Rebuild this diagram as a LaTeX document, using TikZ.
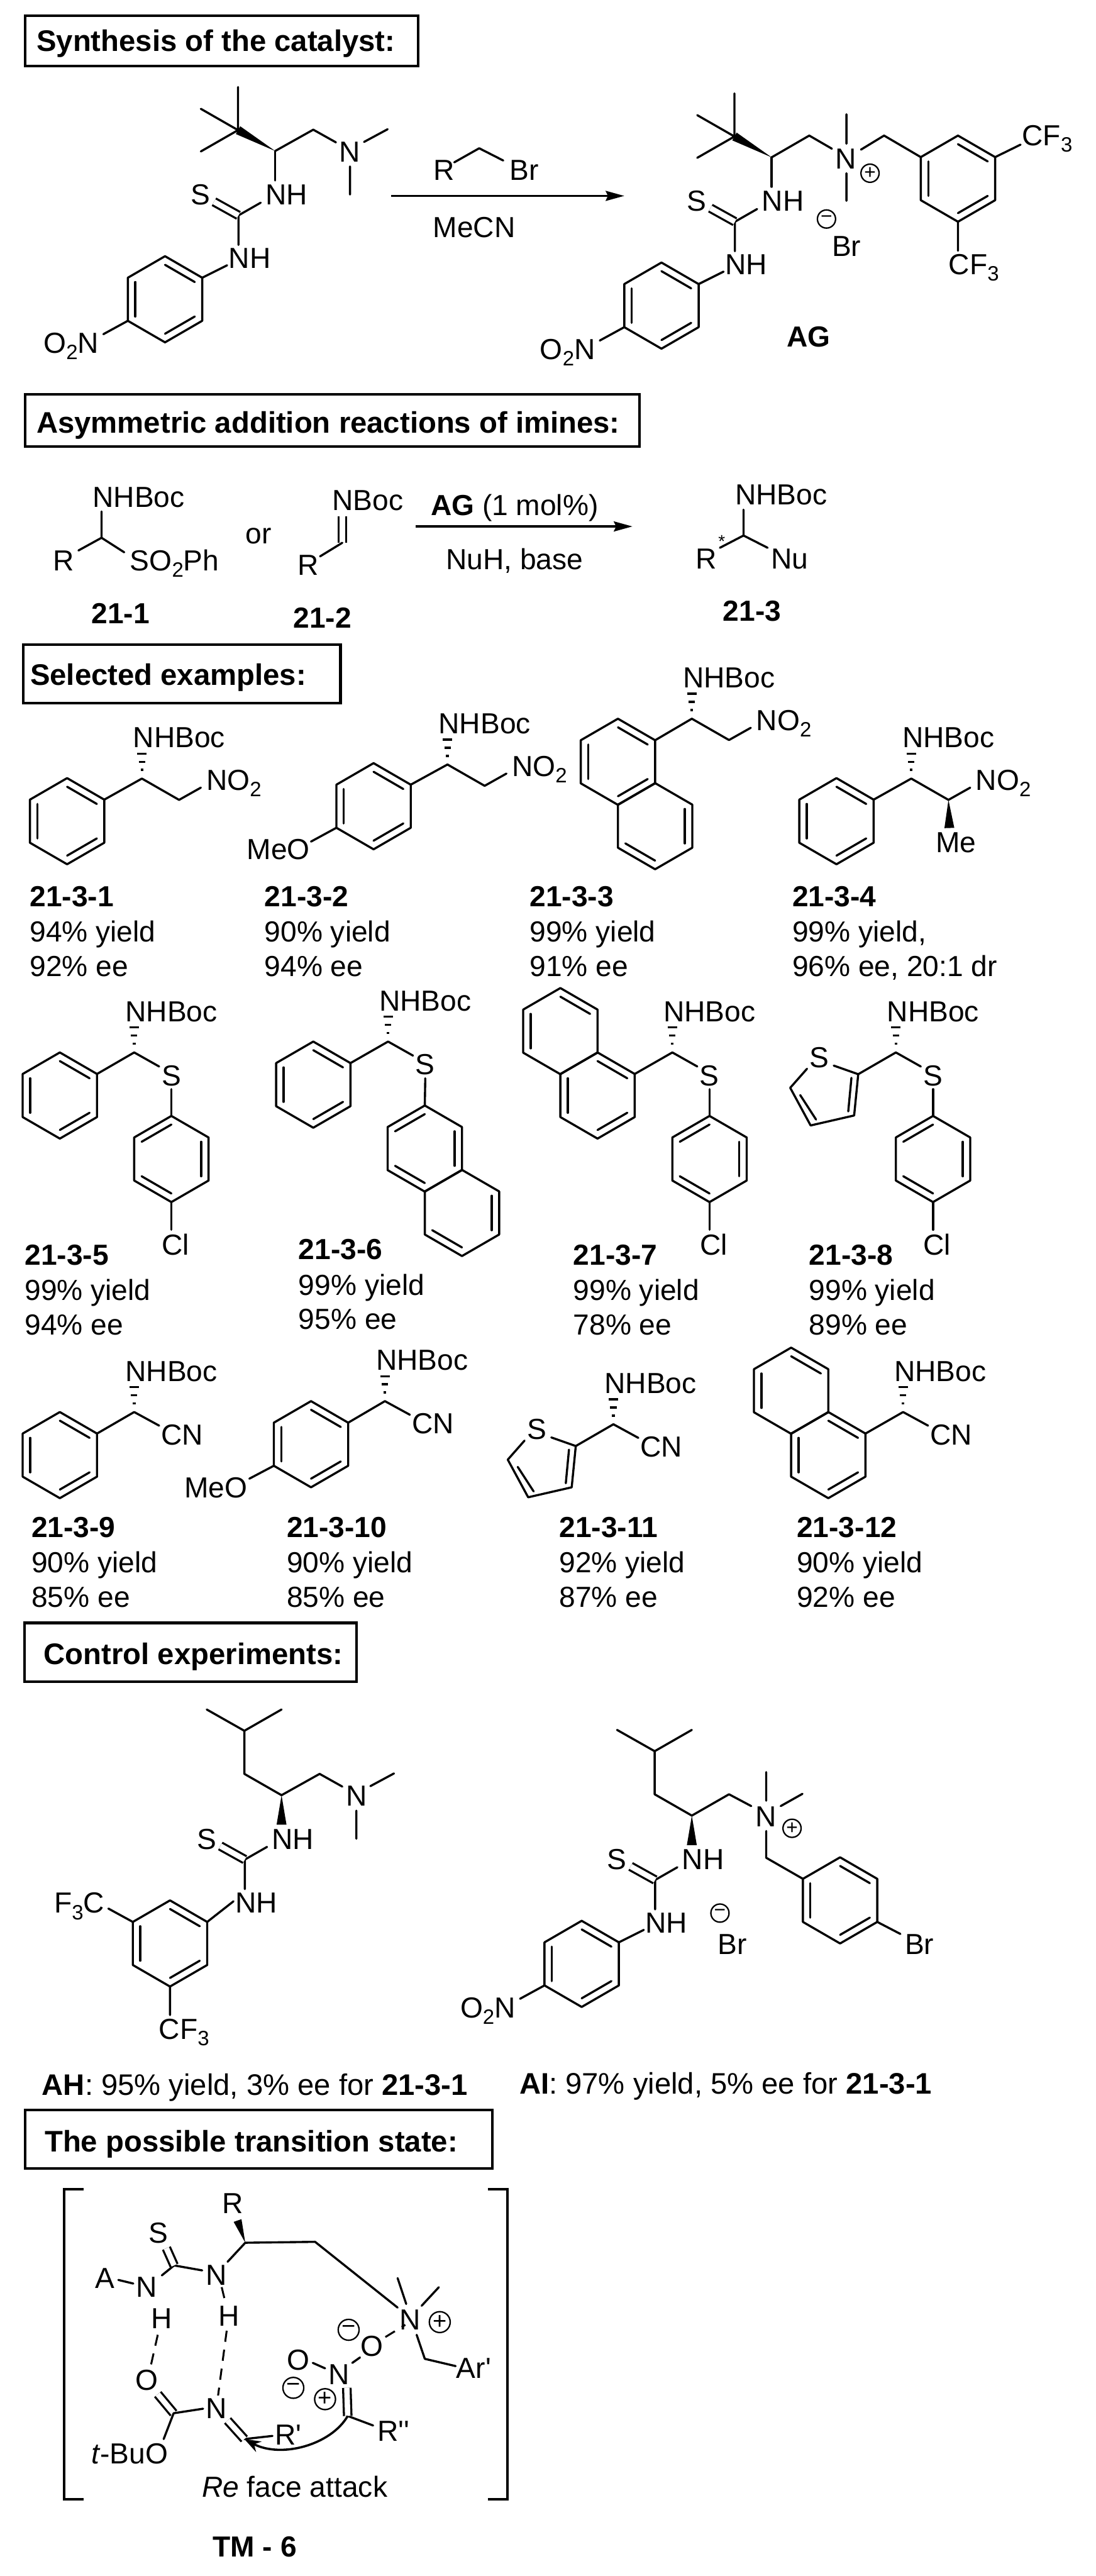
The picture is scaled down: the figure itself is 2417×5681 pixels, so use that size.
\documentclass[tikz,border=0pt]{standalone}
\usepackage{fontspec}
\setmainfont{Liberation Sans}
\newfontfamily\primefont{Liberation Sans}
\usetikzlibrary{arrows.meta,calc}
\tikzset{
  lbl/.style={anchor=base,inner sep=0pt,font=\fontsize{18.2}{22}\selectfont},
  lblbold/.style={lbl,font=\fontsize{18.2}{22}\selectfont\bfseries},
  head/.style={anchor=base west,inner sep=0pt,font=\fontsize{18.65}{22}\selectfont\bfseries},
  tagbold/.style={anchor=base west,inner sep=0pt,font=\fontsize{18.2}{22}\selectfont\bfseries},
  tagline/.style={anchor=base west,inner sep=0pt,font=\fontsize{18.2}{22}\selectfont},
  tagwide/.style={anchor=base west,inner sep=0pt,font=\fontsize{18.62}{22}\selectfont},
  chg/.style={shape=circle,draw=black,line width=0.9pt,inner sep=0pt,minimum size=0.40cm,font=\fontsize{12.5}{13}\selectfont},
  chgbig/.style={chg,minimum size=0.46cm,font=\fontsize{15}{15}\selectfont},
  bond/.style={draw=black,line width=1.33pt,line cap=round,line join=round},
  dbl/.style={draw=black,line width=1.3pt,double,double distance=3.4pt},
  hbond/.style={draw=black,line width=1.2pt,dash pattern=on 7pt off 5pt},
  frame/.style={draw=black,line width=1.6pt},
  rxn/.style={draw=black,line width=1.4pt,-{Stealth[length=0.41cm,width=0.22cm,inset=0.05cm]}},
  curly/.style={draw=black,line width=1.4pt,-{Stealth[length=0.36cm,width=0.26cm]}}
}
\newcommand{\chemsub}[1]{\raisebox{-4pt}{\fontsize{13}{13}\selectfont #1}}
\newcommand{\prm}[1]{{\primefont #1}}
\newcommand{\ringsix}[4]{
  \coordinate (#1o) at (#2,#3);
  \coordinate (#1v1) at (#2,#3-95);
  \coordinate (#1v2) at (#2+82,#3-47.5);
  \coordinate (#1v3) at (#2+82,#3+47.5);
  \coordinate (#1v4) at (#2,#3+95);
  \coordinate (#1v5) at (#2-82,#3+47.5);
  \coordinate (#1v6) at (#2-82,#3-47.5);
  \path[bond] (#1v1) -- (#1v2) -- (#1v3) -- (#1v4) -- (#1v5) -- (#1v6) -- cycle;
  \foreach \e in {#4} {
    \pgfmathtruncatemacro{\f}{mod(\e,6)+1}
    \path[bond] ($(#1o)!0.8!(#1v\e)$) -- ($(#1o)!0.8!(#1v\f)$);
  }
}
\newcommand{\hashbond}[2]{
  \foreach \t/\w in {0.33/3,0.64/7,0.95/10.5} {
    \path[bond,line cap=butt] ($(#1)!\t!(#2)$) +(-\w,0) -- +(\w,0);
  }
}
\newcommand{\wedgebond}[3]{
  \fill[black] (#1) -- ($(#2)!#3!90:(#1)$) -- ($(#2)!#3!-90:(#1)$) -- cycle;
}
\newcommand{\nhbocarm}[3]{
  \coordinate (#1c) at (#2,#3);
  \coordinate (#1h) at (#2,#3-58);
  \node[lbl] (#1b) at (#2+82,#3-68) {NHBoc};
  \hashbond{#1c}{#1h}
}
\newcommand{\nitroend}[3]{
  \coordinate (#1m) at (#2+82,#3+47);
  \coordinate (#1e) at (#2+130,#3+20);
  \node[lbl] (#1n) at (#2+203,#3+26) {NO\chemsub{2}};
  \path[bond] (#1c) -- (#1m) -- (#1e);
}
\newcommand{\cyanoend}[3]{
  \coordinate (#1e) at (#2+55,#3+30);
  \node[lbl] (#1n) at (#2+106,#3+72) {CN};
  \path[bond] (#1c) -- (#1e);
}
\newcommand{\sulfide}[3]{
  \coordinate (#1e) at (#2+55,#3+31);
  \coordinate (#1f) at (#2+82,#3+81);
  \node[lbl] (#1s) at (#2+82,#3+73) {S};
  \path[bond] (#1c) -- (#1e);
}
\newcommand{\chloroaryl}[3]{
  \ringsix{#1r}{#2+82}{#3+235}{2,4,6}
  \coordinate (#1l) at (#2+82,#3+391);
  \node[lbl] (#1cl) at (#2+91,#3+447) {Cl};
  \path[bond] (#1f) -- (#1rv1) (#1rv4) -- (#1l);
}
\newcommand{\thienyl}[3]{
  \coordinate (#1t2) at (#2-83,#3+48);
  \coordinate (#1t3) at (#2-92,#3+139);
  \coordinate (#1t4) at (#2-188,#3+161);
  \coordinate (#1t5) at (#2-233,#3+78);
  \coordinate (#1t6) at (#2-137,#3+29);
  \coordinate (#1t7) at (#2-196,#3+36);
  \coordinate (#1i2) at (#2-98,#3+56);
  \coordinate (#1i3) at (#2-105,#3+130);
  \coordinate (#1i4) at (#2-176,#3+148);
  \coordinate (#1i5) at (#2-211,#3+94);
  \node[lbl] (#1ts) at (#2-169,#3+33) {S};
  \path[bond] (#1c) -- (#1t2) -- (#1t3) -- (#1t4) -- (#1t5) -- (#1t7) (#1t2) -- (#1t6);
  \path[bond] (#1i2) -- (#1i3) (#1i4) -- (#1i5);
}
\newcommand{\yieldtag}[6]{
  \node[tagbold] (#1a) at (#2,#3) {#4};
  \node[tagline] (#1b) at (#2,#3+78) {#5};
  \node[tagline] (#1c) at (#2,#3+154) {#6};
}
\newcommand{\thiourea}[3]{
  \coordinate (#1c) at (#2,#3);
  \coordinate (#1e) at (#2,#3+65);
  \coordinate (#1t) at (#2-81,#3+142);
  \coordinate (#1a) at (#2-32,#3+114);
  \coordinate (#1d) at (#2-135,#3+112);
  \coordinate (#1l) at (#2-81,#3+207);
  \node[lbl] (#1nu) at (#2+25,#3+119) {NH};
  \node[lbl] (#1s) at (#2-165,#3+119) {S};
  \node[lbl] (#1nl) at (#2-56,#3+259) {NH};
  \path[bond] (#1t) -- (#1a) (#1t) -- (#1l);
  \path[dbl] (#1d) -- (#1t);
}
\newcommand{\nitroaryl}[3]{
  \ringsix{#1r}{#2-243}{#3+327}{1,3,5}
  \coordinate (#1j) at (#2-106,#3+252);
  \coordinate (#1k) at (#2-379,#3+404);
  \node[lbl] (#1on) at (#2-450,#3+446) {O\chemsub{2}N};
  \path[bond] (#1j) -- (#1rv2) (#1rv5) -- (#1k);
}
\newcommand{\tbutyl}[3]{
  \coordinate (#1q) at (#2-82,#3-46);
  \coordinate (#1q1) at (#2-82,#3-141);
  \coordinate (#1q2) at (#2-164,#3-93);
  \coordinate (#1q3) at (#2-164,#3+1);
  \path[bond] (#1q1) -- (#1q) (#1q2) -- (#1q) -- (#1q3);
  \wedgebond{#1c}{#1q}{2.8pt}
}
\newcommand{\isobutyl}[3]{
  \coordinate (#1p) at (#2-82,#3-47);
  \coordinate (#1q) at (#2-82,#3-142);
  \coordinate (#1q1) at (#2-165,#3-189);
  \coordinate (#1q2) at (#2,#3-189);
  \path[bond] (#1c) -- (#1p) -- (#1q) -- (#1q1) (#1q) -- (#1q2);
}
\newcommand{\dimethylamino}[3]{
  \coordinate (#1m) at (#2+84,#3-47);
  \coordinate (#1m1) at (#2+134,#3-19);
  \coordinate (#1m2) at (#2+196,#3-20);
  \coordinate (#1m3) at (#2+248,#3-48);
  \coordinate (#1m4) at (#2+165,#3+34);
  \coordinate (#1m5) at (#2+165,#3+96);
  \node[lbl] (#1n) at (#2+165,#3+24) {N};
  \path[bond] (#1c) -- (#1m) -- (#1m1) (#1m2) -- (#1m3) (#1m4) -- (#1m5);
}
\begin{document}
\begin{tikzpicture}[x=0.01cm,y=-0.01cm]
  \useasboundingbox (0,0) rectangle (2417,5681);

  \path[frame] (55,35) rectangle (922,145);
  \node[head] (synthesis) at (80,113) {Synthesis of the catalyst:};
  \path[frame] (55,870) rectangle (1410,985);
  \node[head] (addition) at (80,955) {Asymmetric addition reactions of imines:};
  \path[frame] (51,1422) rectangle (751,1551);
  \node[head] (selected) at (66,1511) {Selected examples:};
  \path[frame] (54,3579) rectangle (786,3709);
  \node[head] (control) at (96,3670) {Control experiments:};
  \path[frame] (55,4653) rectangle (1086,4782);
  \node[head] (possible) at (98,4746) {The possible transition state:};

  \thiourea{cat}{607}{333}
  \nitroaryl{cat}{607}{333}
  \tbutyl{cat}{607}{333}
  \dimethylamino{cat}{607}{333}
  \path[bond] (catc) -- (cate);

  \coordinate (rone) at (863,432);
  \coordinate (rtwo) at (1377,432);
  \path[rxn] (rone) -- (rtwo);
  \coordinate (brone) at (1002,358);
  \coordinate (brtwo) at (1057,327);
  \coordinate (brthree) at (1110,354);
  \path[bond] (brone) -- (brtwo) -- (brthree);
  \node[lbl] (rgroup) at (979,397) {R};
  \node[lbl] (bromide) at (1156,397) {Br};
  \node[lbl] (mecn) at (1046,523) {MeCN};

  \thiourea{ag}{1702}{347}
  \nitroaryl{ag}{1702}{347}
  \tbutyl{ag}{1702}{347}
  \path[bond] (agc) -- (age);
  \coordinate (agm) at (1785,299);
  \coordinate (agm1) at (1835,328);
  \coordinate (agm2) at (1867,252);
  \coordinate (agm3) at (1867,317);
  \coordinate (agm4) at (1867,382);
  \coordinate (agm5) at (1867,443);
  \coordinate (agm6) at (1899,330);
  \coordinate (agm7) at (1950,299);
  \coordinate (agm8) at (2251,319);
  \coordinate (agm9) at (2113,553);
  \node[lbl] (agn) at (1866,373) {N};
  \node[chg] (agplus) at (1919,382) {+};
  \node[chg] (agminus) at (1823,483) {−};
  \node[lbl] (agbr) at (1867,565) {Br};
  \ringsix{agb}{2113}{394}{1,3,5}
  \path[bond] (agc) -- (agm) -- (agm1) (agm2) -- (agm3) (agm4) -- (agm5);
  \path[bond] (agm6) -- (agm7) -- (agbv6) (agbv2) -- (agm8) (agbv4) -- (agm9);
  \node[lbl] (agcfa) at (2310,321) {CF\chemsub{3}};
  \node[lbl] (agcfb) at (2148,605) {CF\chemsub{3}};
  \node[lblbold] (aglabel) at (1784,765) {AG};

  \coordinate (sa) at (224,1186);
  \coordinate (sa1) at (224,1128);
  \coordinate (sa2) at (173,1214);
  \coordinate (sa3) at (274,1218);
  \path[bond] (sa1) -- (sa) -- (sa2) (sa) -- (sa3);
  \node[lbl] (sab) at (306,1119) {NHBoc};
  \node[lbl] (sar) at (140,1259) {R};
  \node[lbl] (saso) at (385,1259) {SO\chemsub{2}Ph};
  \node[lblbold] (salabel) at (266,1375) {21-1};
  \node[lbl] (ortext) at (570,1199) {or};
  \coordinate (ib) at (755,1197);
  \coordinate (ib1) at (755,1138);
  \coordinate (ib2) at (706,1227);
  \path[dbl] (ib1) -- (ib);
  \path[bond] (ib) -- (ib2);
  \node[lbl] (ibb) at (811,1126) {NBoc};
  \node[lbl] (ibr) at (680,1268) {R};
  \node[lblbold] (iblabel) at (711,1385) {21-2};
  \coordinate (aone) at (917,1161);
  \coordinate (atwo) at (1395,1161);
  \path[rxn] (aone) -- (atwo);
  \node[lbl] (cond) at (1135,1136) {\textbf{AG} (1 mol\%)};
  \node[lbl] (nuh) at (1135,1256) {NuH, base};
  \coordinate (pa) at (1640,1181);
  \coordinate (pa1) at (1640,1124);
  \coordinate (pa2) at (1588,1208);
  \coordinate (pa3) at (1693,1208);
  \path[bond] (pa1) -- (pa) -- (pa2) (pa) -- (pa3);
  \node[lbl] (pab) at (1723,1113) {NHBoc};
  \node[lbl] (par) at (1558,1254) {R};
  \node[lbl] (panu) at (1742,1254) {Nu};
  \node[lbl,font=\fontsize{11}{11}\selectfont] (pastar) at (1592,1208) {*};
  \node[lblbold] (palabel) at (1659,1370) {21-3};

  \nhbocarm{ea}{313}{1717}
  \nitroend{ea}{313}{1717}
  \ringsix{ear}{148}{1811}{1,3,5}
  \path[bond] (eac) -- (earv2);
  \yieldtag{eat}{65}{1999}{21-3-1}{94\% yield}{92\% ee}

  \nhbocarm{eb}{987}{1686}
  \nitroend{eb}{987}{1686}
  \ringsix{ebr}{824}{1778}{1,3,5}
  \coordinate (ebo) at (686,1856);
  \node[lbl] (ebme) at (614,1895) {MeO};
  \path[bond] (ebc) -- (ebrv2) (ebrv5) -- (ebo);
  \yieldtag{ebt}{583}{1999}{21-3-2}{90\% yield}{94\% ee}

  \nhbocarm{ec}{1526}{1585}
  \nitroend{ec}{1526}{1585}
  \ringsix{ecr}{1363}{1680}{1,3,5}
  \ringsix{ecs}{1445}{1822}{2,4}
  \path[bond] (ecc) -- (ecrv2);
  \yieldtag{ect}{1168}{1999}{21-3-3}{99\% yield}{91\% ee}

  \nhbocarm{ed}{2010}{1717}
  \nitroend{ed}{2010}{1717}
  \ringsix{edr}{1845}{1811}{1,3,5}
  \coordinate (edw) at (2094,1826);
  \node[lbl] (edme) at (2109,1880) {Me};
  \path[bond] (edc) -- (edrv2);
  \wedgebond{edm}{edw}{3.1pt}
  \yieldtag{edt}{1747}{1999}{21-3-4}{99\% yield,}{96\% ee, 20:1 dr}

  \nhbocarm{ee}{296}{2321}
  \sulfide{ee}{296}{2321}
  \chloroaryl{ee}{296}{2321}
  \ringsix{eer}{132}{2416}{1,3,5}
  \path[bond] (eec) -- (eerv2);
  \yieldtag{eet}{54}{2790}{21-3-5}{99\% yield}{94\% ee}

  \nhbocarm{ef}{856}{2297}
  \sulfide{ef}{856}{2297}
  \ringsix{efr}{691}{2392}{1,3,5}
  \ringsix{efs}{937}{2533}{2,4,6}
  \ringsix{efu}{1019}{2675}{2,4}
  \path[bond] (efc) -- (efrv2) (eff) -- (efsv1);
  \yieldtag{eft}{658}{2778}{21-3-6}{99\% yield}{95\% ee}

  \nhbocarm{eg}{1483}{2321}
  \sulfide{eg}{1483}{2321}
  \chloroaryl{eg}{1483}{2321}
  \ringsix{egr}{1318}{2416}{1,3,5}
  \ringsix{egs}{1236}{2274}{1,5}
  \path[bond] (egc) -- (egrv2);
  \yieldtag{egt}{1264}{2790}{21-3-7}{99\% yield}{78\% ee}

  \nhbocarm{eh}{1976}{2321}
  \sulfide{eh}{1976}{2321}
  \chloroaryl{eh}{1976}{2321}
  \thienyl{eh}{1976}{2321}
  \yieldtag{eht}{1784}{2790}{21-3-8}{99\% yield}{89\% ee}

  \nhbocarm{ei}{296}{3114}
  \cyanoend{ei}{296}{3114}
  \ringsix{eir}{132}{3209}{1,3,5}
  \path[bond] (eic) -- (eirv2);
  \yieldtag{eit}{69}{3390}{21-3-9}{90\% yield}{85\% ee}

  \nhbocarm{ej}{849}{3090}
  \cyanoend{ej}{849}{3090}
  \ringsix{ejr}{686}{3185}{1,3,5}
  \coordinate (ejo) at (550,3261);
  \node[lbl] (ejme) at (476,3303) {MeO};
  \path[bond] (ejc) -- (ejrv2) (ejrv5) -- (ejo);
  \yieldtag{ejt}{632}{3390}{21-3-10}{90\% yield}{85\% ee}

  \nhbocarm{ek}{1353}{3141}
  \cyanoend{ek}{1353}{3141}
  \thienyl{ek}{1353}{3141}
  \yieldtag{ekt}{1233}{3390}{21-3-11}{92\% yield}{87\% ee}

  \nhbocarm{el}{1992}{3114}
  \cyanoend{el}{1992}{3114}
  \ringsix{elr}{1827}{3209}{1,3,5}
  \ringsix{els}{1745}{3067}{1,5}
  \path[bond] (elc) -- (elrv2);
  \yieldtag{elt}{1757}{3390}{21-3-12}{90\% yield}{92\% ee}

  \thiourea{ah}{621}{3959}
  \isobutyl{ah}{621}{3959}
  \dimethylamino{ah}{621}{3959}
  \wedgebond{ahc}{ahe}{3.1pt}
  \ringsix{ahr}{375}{4286}{1,3,5}
  \coordinate (ahj) at (515,4193);
  \coordinate (ahk) at (239,4209);
  \coordinate (ahf) at (375,4444);
  \path[bond] (ahj) -- (ahrv2) (ahrv6) -- (ahk) (ahrv4) -- (ahf);
  \node[lbl] (ahcfa) at (175,4219) {F\chemsub{3}C};
  \node[lbl] (ahcfb) at (406,4497) {CF\chemsub{3}};
  \node[tagwide] (ahlabel) at (92,4621) {\textbf{AH}: 95\% yield, 3\% ee for \textbf{21-3-1}};

  \thiourea{ai}{1526}{4004}
  \nitroaryl{ai}{1526}{4004}
  \isobutyl{ai}{1526}{4004}
  \wedgebond{aic}{aie}{3.1pt}
  \coordinate (aim) at (1608,3957);
  \coordinate (aim1) at (1657,3983);
  \coordinate (aim2) at (1690,3908);
  \coordinate (aim3) at (1690,3971);
  \coordinate (aim4) at (1722,3983);
  \coordinate (aim5) at (1770,3956);
  \coordinate (aim6) at (1690,4038);
  \coordinate (aim7) at (1690,4097);
  \coordinate (aim8) at (1986,4265);
  \node[lbl] (ain) at (1689,4028) {N};
  \node[chg] (aiplus) at (1747,4032) {+};
  \node[chg] (aiminus) at (1588,4219) {−};
  \node[lbl] (aibr) at (1615,4310) {Br};
  \node[lbl] (aibrb) at (2028,4310) {Br};
  \ringsix{air}{1853}{4191}{1,3,5}
  \path[bond] (aic) -- (aim) -- (aim1) (aim2) -- (aim3) (aim4) -- (aim5);
  \path[bond] (aim6) -- (aim7) -- (airv6) (airv3) -- (aim8);
  \node[tagwide] (ailabel) at (1145,4618) {\textbf{AI}: 97\% yield, 5\% ee for \textbf{21-3-1}};

  \coordinate (bla) at (184,4828);
  \coordinate (blb) at (141,4828);
  \coordinate (blc) at (141,5512);
  \coordinate (bld) at (184,5512);
  \coordinate (bra) at (1076,4828);
  \coordinate (brb) at (1119,4828);
  \coordinate (brc) at (1119,5512);
  \coordinate (brd) at (1076,5512);
  \path[frame] (bla) -- (blb) -- (blc) -- (bld);
  \path[frame] (bra) -- (brb) -- (brc) -- (brd);

  \coordinate (tsa) at (541,4946);
  \coordinate (tsb) at (524,4897);
  \coordinate (tsc) at (695,4944);
  \coordinate (tsd) at (877,5089);
  \coordinate (tse) at (877,5024);
  \coordinate (tsf) at (896,5081);
  \coordinate (tsg) at (968,5044);
  \coordinate (tsh) at (930,5085);
  \coordinate (tsi) at (919,5149);
  \coordinate (tsj) at (937,5202);
  \coordinate (tsk) at (1005,5218);
  \coordinate (tsl) at (502,4988);
  \coordinate (tsm) at (384,4996);
  \coordinate (tsn) at (446,5007);
  \coordinate (tso) at (367,4958);
  \coordinate (tsp) at (357,5018);
  \coordinate (tsq) at (261,5028);
  \coordinate (tsr) at (294,5036);
  \coordinate (tss) at (489,5044);
  \coordinate (tst) at (496,5073);
  \coordinate (tsu) at (348,5149);
  \coordinate (tsv) at (332,5220);
  \coordinate (tsw) at (348,5280);
  \coordinate (tsx) at (383,5322);
  \coordinate (tsy) at (448,5312);
  \coordinate (tsz) at (500,5140);
  \coordinate (tsaa) at (481,5283);
  \coordinate (tsab) at (361,5379);
  \coordinate (tsac) at (502,5338);
  \coordinate (tsad) at (539,5379);
  \coordinate (tsae) at (601,5372);
  \coordinate (tsaf) at (767,5328);
  \coordinate (tsag) at (823,5349);
  \coordinate (tsah) at (765,5266);
  \coordinate (tsai) at (690,5211);
  \coordinate (tsaj) at (717,5223);
  \coordinate (tsak) at (777,5211);
  \coordinate (tsal) at (794,5199);
  \coordinate (tsam) at (850,5154);
  \coordinate (tsan) at (894,5127);
  \wedgebond{tsa}{tsb}{2.6pt}
  \path[bond] (tsl) -- (tsa) -- (tsc) -- (tsd) (tse) -- (tsf) (tsg) -- (tsh) (tsi) -- (tsj) -- (tsk);
  \path[bond] (tsn) -- (tsm) -- (tsp) (tsq) -- (tsr);
  \path[dbl] (tso) -- (tsm);
  \path[hbond] (tss) -- (tst) (tsu) -- (tsv) (tsz) -- (tsaa) (tsam) -- (tsan);
  \path[dbl] (tsw) -- (tsx);
  \path[bond] (tsy) -- (tsx) -- (tsab) (tsad) -- (tsae) (tsaf) -- (tsag) (tsai) -- (tsaj) (tsak) -- (tsal);
  \path[dbl] (tsac) -- (tsad);
  \path[dbl] (tsah) -- (tsaf);
  \path[curly] (tsaf) .. controls (730,5392) and (620,5422) .. (tsad);
  \node[lbl] (tsrg) at (514,4881) {R};
  \node[lbl] (tssulfur) at (350,4947) {S};
  \node[lbl] (tsnr) at (477,5039) {N};
  \node[lbl] (tsnl) at (324,5066) {N};
  \node[lbl] (tsaryl) at (231,5046) {A};
  \node[lbl] (tshl) at (356,5135) {H};
  \node[lbl] (tshr) at (505,5129) {H};
  \node[lbl] (tsoxy) at (324,5271) {O};
  \node[lbl] (tsimine) at (477,5333) {N};
  \node[lbl] (tsbuo) at (286,5433) {\textit{t}-BuO};
  \node[lbl] (tsrp) at (636,5392) {R\prm{'}};
  \node[lbl] (tsrpp) at (868,5384) {R\prm{''}};
  \node[lbl] (tsnplus) at (904,5138) {N};
  \node[chgbig] (tsplusa) at (970,5121) {+};
  \node[lbl] (tsar) at (1045,5245) {Ar\prm{'}};
  \node[lbl] (tsnit) at (748,5258) {N};
  \node[lbl] (tsol) at (658,5227) {O};
  \node[lbl] (tsor) at (820,5196) {O};
  \node[chgbig] (tsminusa) at (769,5138) {−};
  \node[chgbig] (tsminusb) at (647,5266) {−};
  \node[chgbig] (tsplusb) at (717,5291) {+};
  \node[lbl] (tsface) at (650,5507) {\textit{Re} face attack};
  \node[lblbold] (tslabel) at (562,5638) {TM - 6};
\end{tikzpicture}
\end{document}
